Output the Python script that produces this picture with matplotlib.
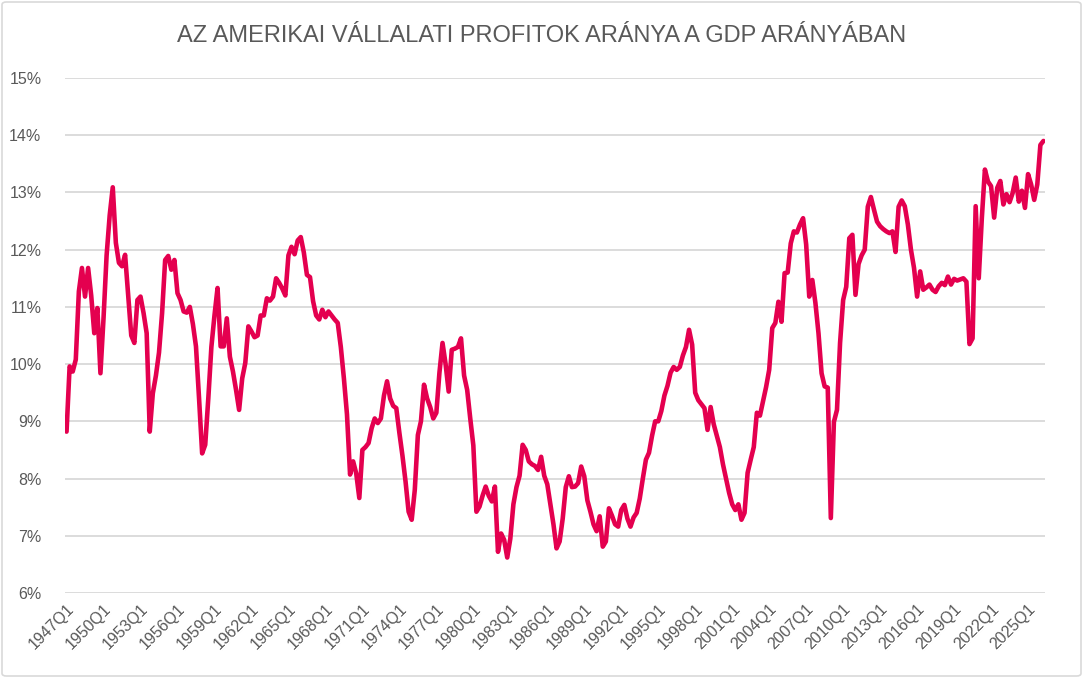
import matplotlib
matplotlib.use("Agg")
import matplotlib.pyplot as plt
from matplotlib.patches import FancyBboxPatch

# Vállalati profitok / GDP, negyedéves adatok (%)
profit_share = [
    8.82, 9.96, 9.87, 10.08, 11.27, 11.68, 11.18, 11.68, 11.20, 10.54,
    10.98, 9.84, 10.80, 11.90, 12.60, 13.09, 12.12, 11.77, 11.71, 11.91,
    11.20, 10.50, 10.37, 11.12, 11.18, 10.89, 10.54, 8.82, 9.49, 9.80,
    10.20, 10.89, 11.82, 11.89, 11.65, 11.82, 11.24, 11.12, 10.92, 10.90,
    11.00, 10.70, 10.31, 9.40, 8.44, 8.59, 9.40, 10.30, 10.85, 11.33,
    10.31, 10.31, 10.80, 10.13, 9.87, 9.55, 9.20, 9.75, 10.02, 10.66,
    10.57, 10.47, 10.50, 10.85, 10.85, 11.15, 11.11, 11.18, 11.50, 11.42,
    11.32, 11.20, 11.90, 12.05, 11.92, 12.16, 12.22, 11.95, 11.56, 11.52,
    11.10, 10.85, 10.78, 10.95, 10.82, 10.92, 10.85, 10.78, 10.72, 10.30,
    9.75, 9.12, 8.07, 8.30, 8.09, 7.66, 8.50, 8.55, 8.62, 8.88,
    9.05, 8.97, 9.05, 9.45, 9.70, 9.40, 9.27, 9.23, 8.80, 8.40,
    7.95, 7.42, 7.28, 7.80, 8.76, 9.00, 9.64, 9.40, 9.25, 9.05,
    9.15, 9.85, 10.37, 10.00, 9.52, 10.25, 10.27, 10.30, 10.45, 9.80,
    9.55, 9.05, 8.58, 7.42, 7.51, 7.70, 7.86, 7.70, 7.60, 7.86,
    6.72, 7.04, 6.93, 6.62, 6.95, 7.55, 7.85, 8.05, 8.59, 8.50,
    8.30, 8.25, 8.22, 8.15, 8.38, 8.05, 7.90, 7.55, 7.20, 6.78,
    6.90, 7.30, 7.85, 8.04, 7.85, 7.86, 7.92, 8.21, 8.04, 7.62,
    7.42, 7.20, 7.08, 7.34, 6.81, 6.90, 7.48, 7.35, 7.20, 7.16,
    7.45, 7.54, 7.30, 7.16, 7.32, 7.40, 7.65, 8.00, 8.33, 8.45,
    8.75, 9.00, 9.00, 9.18, 9.45, 9.62, 9.85, 9.95, 9.90, 9.95,
    10.15, 10.30, 10.60, 10.34, 9.50, 9.37, 9.30, 9.23, 8.85, 9.25,
    8.95, 8.75, 8.55, 8.25, 8.00, 7.75, 7.55, 7.45, 7.55, 7.28,
    7.40, 8.10, 8.33, 8.55, 9.15, 9.10, 9.35, 9.60, 9.90, 10.63,
    10.72, 11.09, 10.74, 11.59, 11.60, 12.11, 12.32, 12.30, 12.44, 12.55,
    12.09, 11.18, 11.47, 11.07, 10.54, 9.84, 9.61, 9.59, 7.31, 8.99,
    9.20, 10.37, 11.12, 11.35, 12.20, 12.26, 11.21, 11.75, 11.90, 12.00,
    12.75, 12.92, 12.70, 12.49, 12.41, 12.36, 12.32, 12.29, 12.32, 11.96,
    12.75, 12.86, 12.76, 12.44, 12.00, 11.68, 11.18, 11.62, 11.30, 11.34,
    11.39, 11.30, 11.26, 11.36, 11.42, 11.38, 11.53, 11.39, 11.49, 11.46,
    11.48, 11.50, 11.44, 10.35, 10.45, 12.76, 11.50, 12.55, 13.40, 13.19,
    13.11, 12.56, 13.08, 13.20, 12.79, 12.97, 12.83, 12.99, 13.26, 12.84,
    13.03, 12.73, 13.32, 13.14, 12.87, 13.14, 13.83, 13.90,
]

first_year = 1947
quarters = [f"{first_year + k // 4}Q{k % 4 + 1}" for k in range(len(profit_share))]
tick_labels = ["1947Q1", "1950Q1", "1953Q1", "1956Q1", "1959Q1", "1962Q1",
               "1965Q1", "1968Q1", "1971Q1", "1974Q1", "1977Q1", "1980Q1",
               "1983Q1", "1986Q1", "1989Q1", "1992Q1", "1995Q1", "1998Q1",
               "2001Q1", "2004Q1", "2007Q1", "2010Q1", "2013Q1", "2016Q1",
               "2019Q1", "2022Q1", "2025Q1"]
y_ticks = [6, 7, 8, 9, 10, 11, 12, 13, 14, 15]

title = "AZ AMERIKAI VÁLLALATI PROFITOK ARÁNYA A GDP ARÁNYÁBAN"

W, H = 1083, 678
text_gray = "#595959"
grid_gray = "#D9D9D9"
line_red = "#E4004F"

plt.rcParams["font.family"] = ["Liberation Sans", "DejaVu Sans"]

fig = plt.figure(figsize=(W / 100, H / 100), dpi=100)

# keret a diagram körül
fig.patches.append(FancyBboxPatch((2 / W, 2 / H), 1 - 4 / W, 1 - 4 / H,
                                  boxstyle="round,pad=0,rounding_size=0.004",
                                  transform=fig.transFigure, fill=False,
                                  edgecolor=grid_gray, linewidth=1.2))

ax = fig.add_axes([65 / W, 1 - 593 / H, 980 / W, 515 / H])

x = list(range(len(profit_share)))
ax.plot(x, profit_share, color=line_red, linewidth=3.3, solid_joinstyle="round",
        solid_capstyle="round", zorder=3)

ax.set_xlim(-0.5, len(profit_share) - 0.5)
ax.set_ylim(6, 15)

ax.set_yticks(y_ticks)
ax.set_yticklabels([f"{v}%" for v in y_ticks])
ax.grid(axis="y", color=grid_gray, linewidth=1.3)
ax.set_axisbelow(True)

tick_pos = [quarters.index(t) for t in tick_labels]
ax.set_xticks(tick_pos)
ax.set_xticklabels(tick_labels, rotation=45, ha="right", va="top",
                   rotation_mode="anchor")

for s in ax.spines.values():
    s.set_visible(False)
ax.tick_params(axis="both", length=0, colors=text_gray, labelsize=11.5)
ax.tick_params(axis="y", pad=17)
ax.tick_params(axis="x", pad=6)

fig.text(0.5, 1 - 36 / H, title, ha="center", va="center",
         fontsize=17, color=text_gray)

fig.savefig("out.png", dpi=100)
